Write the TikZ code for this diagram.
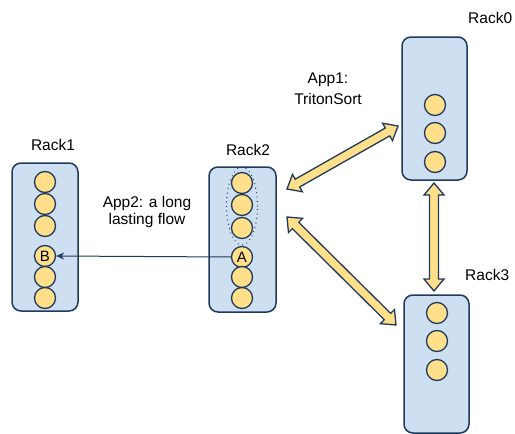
\documentclass[tikz,border=0pt]{standalone}
\usepackage{fontspec}
\setmainfont{Liberation Sans}
\usetikzlibrary{calc,arrows.meta,shapes.geometric}
\definecolor{rackfill}{HTML}{CEDFF1}
\definecolor{navy}{HTML}{1F3A5C}
\definecolor{srv}{HTML}{FFDF8A}
\tikzset{
 rack/.style={draw=navy, line width=1.5pt, fill=rackfill, rounded corners=9pt, inner sep=0pt},
 srvnode/.style={circle, draw=navy, line width=1.3pt, fill=srv, minimum size=21pt, inner sep=0pt, font=\fontsize{15}{17}\selectfont},
 lbl/.style={font=\fontsize{15.5}{17}\selectfont, inner sep=0pt, align=center},
 barrow/.style={draw=navy, line width=1.3pt, fill=srv, line join=miter},
 flow/.style={draw=navy, line width=1pt, -{Stealth[length=8pt,width=7pt]}},
 grpstyle/.style={ellipse, draw=navy, line width=1.3pt, dash pattern=on 0pt off 4.5pt, line cap=round, minimum width=31pt, minimum height=78pt, inner sep=0pt},
}
\newcommand\blockarrow[2]{%
 \coordinate (ba1) at ($(#1)!12pt!(#2)$);
 \coordinate (ba2) at ($(#2)!12pt!(#1)$);
 \draw[barrow] (#1) -- ($(ba1)!10pt!90:(#2)$) -- ($(ba1)!4.5pt!90:(#2)$) -- ($(ba2)!4.5pt!-90:(#1)$) -- ($(ba2)!10pt!-90:(#1)$) -- (#2) -- ($(ba2)!10pt!90:(#1)$) -- ($(ba2)!4.5pt!90:(#1)$) -- ($(ba1)!4.5pt!-90:(#2)$) -- ($(ba1)!10pt!-90:(#2)$) -- cycle;}
\begin{document}
\begin{tikzpicture}[x=1pt,y=-1pt]
\useasboundingbox (0,0) rectangle (515,434);
% racks
\node[rack, minimum width=66pt, minimum height=148pt] (rack1) at (45,237) {};
\node[rack, minimum width=67pt, minimum height=145pt] (rack2) at (242.5,239.5) {};
\node[rack, minimum width=65pt, minimum height=143pt] (rack0) at (434.5,108.5) {};
\node[rack, minimum width=65pt, minimum height=138pt] (rack3) at (436.5,364) {};
% rack1 servers
\node[srvnode] (r1a) at (45,182) {};
\node[srvnode] (r1b) at (45,204) {};
\node[srvnode] (r1c) at (45,226) {};
\node[srvnode] (B) at (45,256) {B};
\node[srvnode] (r1e) at (45,277) {};
\node[srvnode] (r1f) at (45,298) {};
% rack2 servers
\node[srvnode] (r2a) at (242,183) {};
\node[srvnode] (r2b) at (242,205) {};
\node[srvnode] (r2c) at (242,228) {};
\node[srvnode] (A) at (242,257) {A};
\node[srvnode] (r2e) at (242,277) {};
\node[srvnode] (r2f) at (242,298) {};
\node[grpstyle] (grp) at (242,206) {};
% rack0 servers
\node[srvnode] (r0a) at (435,105) {};
\node[srvnode] (r0b) at (435,133) {};
\node[srvnode] (r0c) at (435,162) {};
% rack3 servers
\node[srvnode] (r3a) at (437,313) {};
\node[srvnode] (r3b) at (437,341) {};
\node[srvnode] (r3c) at (437,370) {};
% labels
\node[lbl] (l1) at (53,145) {Rack1};
\node[lbl] (l2) at (248,150) {Rack2};
\node[lbl, anchor=west] (l0) at (468,18) {Rack0};
\node[lbl, anchor=west] (l3) at (465,275) {Rack3};
\node[lbl, font=\fontsize{15.5}{21}\selectfont] (app1) at (328,89) {App1:\\TritonSort};
\node[lbl, font=\fontsize{15.5}{17}\selectfont] (app2) at (147,212) {App2: a long\\lasting flow};
% block arrows
\coordinate (e20a) at (287,189);
\coordinate (e20b) at (398,126);
\coordinate (e23a) at (287,217);
\coordinate (e23b) at (396,325);
\coordinate (e03a) at (434,183);
\coordinate (e03b) at (434,291);
\blockarrow{e20a}{e20b}
\blockarrow{e23a}{e23b}
\blockarrow{e03a}{e03b}
% flow
\draw[flow] (A.west) -- (B.east);
\end{tikzpicture}
\end{document}
